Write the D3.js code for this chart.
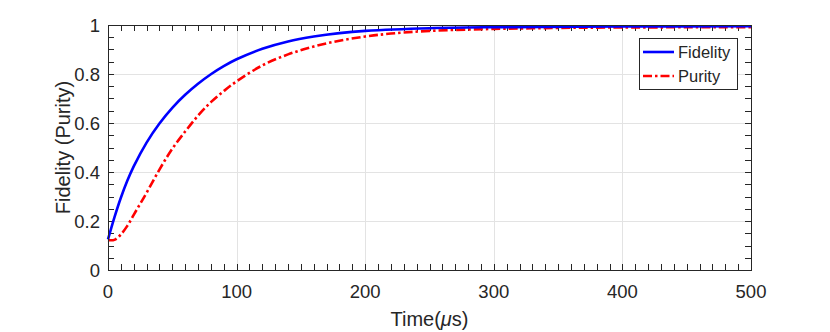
<!DOCTYPE html>
<html>
<head>
<meta charset="utf-8">
<script src="https://cdn.jsdelivr.net/npm/d3@7"></script>
<style>
  body { margin: 0; background: #fff; }
  text { font-family: "Liberation Sans", Arial, sans-serif; fill: #262626; }
</style>
</head>
<body>
<svg id="chart" width="830" height="332"></svg>
<script>
// values
var fidelityT = [0, 5, 10, 15, 20, 30, 40, 50, 60, 70, 80, 90, 100, 120, 140, 160, 180, 200, 250, 300, 400, 500];
var fidelityV = [0.125, 0.215, 0.295, 0.364, 0.423, 0.52, 0.598, 0.662, 0.715, 0.76, 0.799, 0.832, 0.86, 0.903, 0.933, 0.953, 0.967, 0.976, 0.987, 0.991, 0.994, 0.995];

var purityT = [0, 5, 10, 15, 20, 25, 30, 40, 50, 60, 70, 80, 90, 100, 120, 140, 160, 180, 200, 220, 250, 300, 350, 400, 500];
var purityV = [0.122, 0.123, 0.145, 0.18, 0.225, 0.27, 0.315, 0.41, 0.495, 0.565, 0.63, 0.685, 0.73, 0.77, 0.835, 0.88, 0.912, 0.936, 0.953, 0.965, 0.976, 0.984, 0.988, 0.99, 0.991];

var xTicks = [0, 100, 200, 300, 400, 500];
var yTicks = [0, 0.2, 0.4, 0.6, 0.8, 1];
var yTickLabels = ['0', '0.2', '0.4', '0.6', '0.8', '1'];
var seriesNames = ['Fidelity', 'Purity'];

// plot box (names avoid window.top)
var axL = 108, axR = 751, axT = 25, axB = 270;
var x = d3.scaleLinear().domain([0, 500]).range([axL, axR]);
var y = d3.scaleLinear().domain([0, 1]).range([axB, axT]);

var svg = d3.select('#chart');
var ink = '#262626';

//// grid
svg.append('g').selectAll('line').data(xTicks.slice(1, -1)).enter().append('line')
    .attr('x1', d => Math.round(x(d)) + 0.5).attr('x2', d => Math.round(x(d)) + 0.5)
    .attr('y1', axT).attr('y2', axB)
    .attr('stroke', '#e3e3e3').attr('stroke-width', 1);
svg.append('g').selectAll('line').data(yTicks.slice(1, -1)).enter().append('line')
    .attr('x1', axL).attr('x2', axR)
    .attr('y1', d => Math.round(y(d)) + 0.5).attr('y2', d => Math.round(y(d)) + 0.5)
    .attr('stroke', '#e3e3e3').attr('stroke-width', 1);

//// ticks (inward, on all four sides, with minor ticks)
var xMinor = d3.range(0, 501, 10);
var yMinor = d3.range(0, 1.0001, 0.05);
var tl = 6;
var ticks = svg.append('g').attr('stroke', ink).attr('stroke-width', 1);
xMinor.forEach(function (d) {
  var px = Math.round(x(d)) + 0.5;
  ticks.append('line').attr('x1', px).attr('x2', px).attr('y1', axB).attr('y2', axB - tl);
  ticks.append('line').attr('x1', px).attr('x2', px).attr('y1', axT).attr('y2', axT + tl);
});
yMinor.forEach(function (d) {
  var py = Math.round(y(d)) + 0.5;
  ticks.append('line').attr('x1', axL).attr('x2', axL + tl).attr('y1', py).attr('y2', py);
  ticks.append('line').attr('x1', axR).attr('x2', axR - tl).attr('y1', py).attr('y2', py);
});

//// curves
var line = d3.line().x(d => x(d[0])).y(d => y(d[1])).curve(d3.curveCatmullRom.alpha(0.5));

svg.append('path')
    .datum(purityT.map((t, i) => [t, purityV[i]]))
    .attr('d', line)
    .attr('fill', 'none')
    .attr('stroke', '#ff0000')
    .attr('stroke-width', 2.6)
    .attr('stroke-dasharray', '9,3,2.5,3');

svg.append('path')
    .datum(fidelityT.map((t, i) => [t, fidelityV[i]]))
    .attr('d', line)
    .attr('fill', 'none')
    .attr('stroke', '#0000ff')
    .attr('stroke-width', 2.6);

//// box
svg.append('rect')
    .attr('x', axL + 0.5).attr('y', axT + 0.5)
    .attr('width', axR - axL).attr('height', axB - axT)
    .attr('fill', 'none').attr('stroke', ink).attr('stroke-width', 1);

//// tick labels
svg.append('g').selectAll('text').data(xTicks).enter().append('text')
    .attr('x', d => x(d)).attr('y', 298)
    .attr('text-anchor', 'middle')
    .attr('font-size', 18.5)
    .text(d => d);
svg.append('g').selectAll('text').data(yTicks).enter().append('text')
    .attr('x', axL - 8).attr('y', d => y(d) + 6.5)
    .attr('text-anchor', 'end')
    .attr('font-size', 18.5)
    .text((d, i) => yTickLabels[i]);

//// axis titles
var xl = svg.append('text')
    .attr('x', (axL + axR) / 2).attr('y', 326)
    .attr('text-anchor', 'middle')
    .attr('font-size', 20);
xl.append('tspan').text('Time(');
xl.append('tspan').attr('font-style', 'italic').text('\u03bc');
xl.append('tspan').text('s)');

svg.append('text')
    .attr('transform', 'translate(70,' + ((axT + axB) / 2) + ') rotate(-90)')
    .attr('text-anchor', 'middle')
    .attr('font-size', 20)
    .text('Fidelity (Purity)');

//// legend
var lg = svg.append('g');
lg.append('rect')
    .attr('x', 639.5).attr('y', 38.5)
    .attr('width', 98).attr('height', 51)
    .attr('fill', '#fff').attr('stroke', ink).attr('stroke-width', 1);

var legendColors = ['#0000ff', '#ff0000'];
var legendDash = [null, '9,3,2.5,3'];
seriesNames.forEach(function (name, i) {
  var ly = 52 + i * 24;
  lg.append('line')
      .attr('x1', 643).attr('x2', 674)
      .attr('y1', ly).attr('y2', ly)
      .attr('stroke', legendColors[i])
      .attr('stroke-width', 2.6)
      .attr('stroke-dasharray', legendDash[i]);
  lg.append('text')
      .attr('x', 678).attr('y', ly + 6)
      .attr('font-size', 16.5)
      .text(name);
});
</script>
</body>
</html>
